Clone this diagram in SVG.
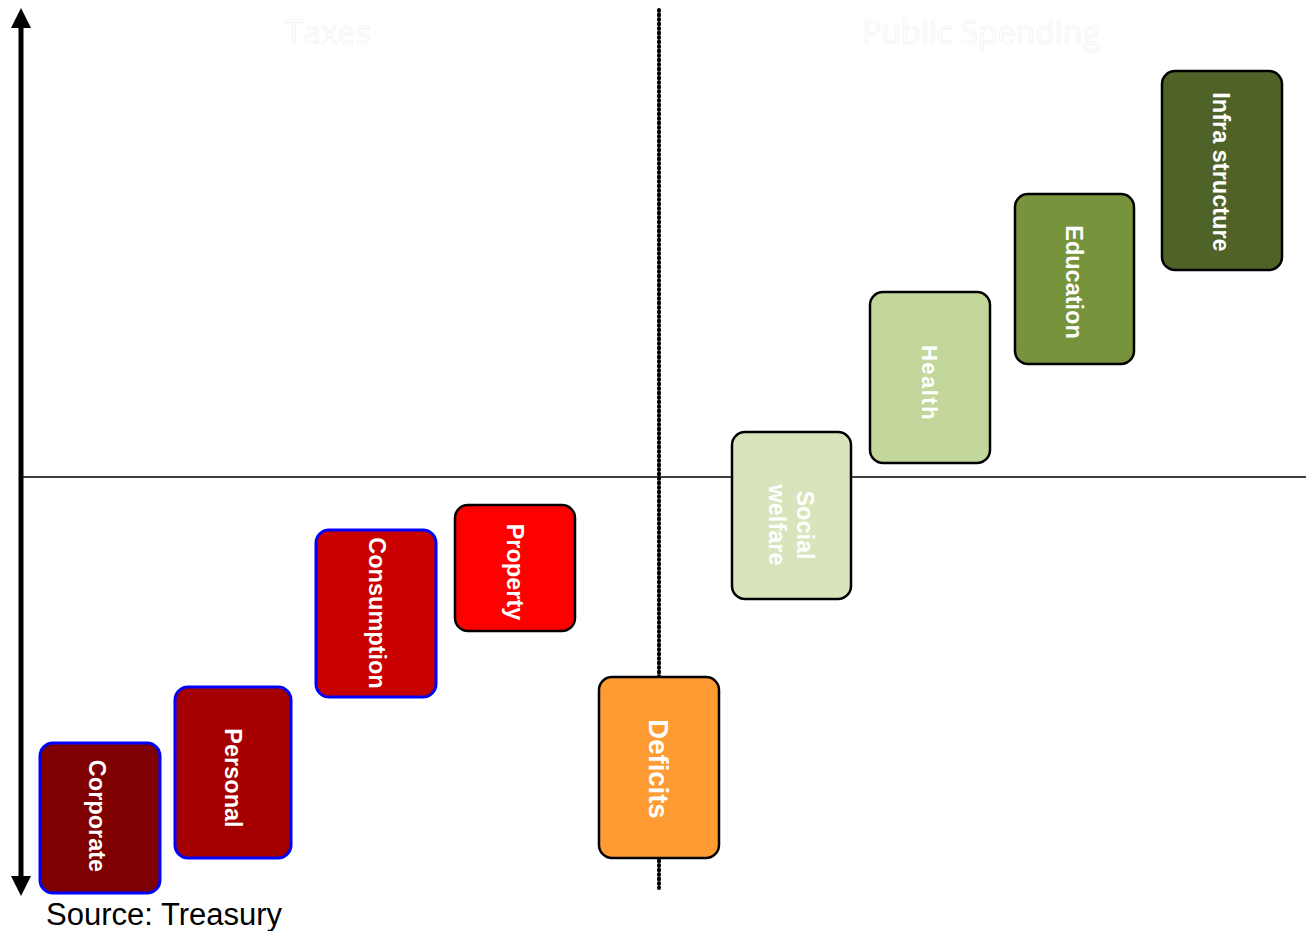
<svg xmlns="http://www.w3.org/2000/svg" width="1306" height="931" viewBox="0 0 1306 931">
<style>
.box{stroke-width:2.5}
.blue{stroke:#0000ff;stroke-width:3}
.blk{stroke:#000}
.lbl{font-family:"Liberation Sans",Arial,sans-serif;font-size:23.5px;font-weight:bold;fill:#fff;text-anchor:middle;dominant-baseline:central}
.title{font-family:"Open Sans","Liberation Sans",sans-serif;font-size:32px;fill:#fff;stroke:#f5ecec;stroke-width:0.6;text-anchor:middle}
</style>
<defs>
<marker id="ah" viewBox="0 0 10 10" refX="5" refY="5" markerWidth="4" markerHeight="4" orient="auto-start-reverse" markerUnits="strokeWidth">
<path d="M0,0 L10,5 L0,10 z" fill="#000"/>
</marker>
</defs>
<rect width="1306" height="931" fill="#fff"/>
<g id="connectors">
<line x1="22" y1="477" x2="1306" y2="477" stroke="#000" stroke-width="1.5"/>
<line x1="21" y1="18" x2="21" y2="886" stroke="#000" stroke-width="5" marker-start="url(#ah)" marker-end="url(#ah)"/>
<line x1="659" y1="10" x2="659" y2="888" stroke="#000" stroke-width="4" stroke-dasharray="1 3.5" stroke-linecap="round"/>
</g>
<g id="titles">
<text class="title" x="328" y="44">Taxes</text>
<text class="title" x="981" y="44">Public Spending</text>
</g>
<g id="corporate"><rect class="box blue" x="40" y="743" width="120" height="150" rx="13" fill="#7f0000"/><text class="lbl" transform="translate(97,816) rotate(90)">Corporate</text></g>
<g id="personal"><rect class="box blue" x="175" y="687" width="116" height="171" rx="13" fill="#a50000"/><text class="lbl" transform="translate(233,778) rotate(90)">Personal</text></g>
<g id="consumption"><rect class="box blue" x="316" y="530" width="120" height="167" rx="13" fill="#c80000"/><text class="lbl" transform="translate(377,613) rotate(90)">Consumption</text></g>
<g id="property"><rect class="box blk" x="455" y="505" width="120" height="126" rx="13" fill="#ff0000"/><text class="lbl" transform="translate(515,572) rotate(90)">Property</text></g>
<g id="deficits"><rect class="box blk" x="599" y="677" width="120" height="181" rx="13" fill="#ff9b33"/><text class="lbl" style="font-size:27.5px" transform="translate(658,769) rotate(90)">Deficits</text></g>
<g id="social-welfare"><rect class="box blk" x="732" y="432" width="119" height="167" rx="13" fill="#d8e4bc"/><text class="lbl" transform="translate(791,525) rotate(90)"><tspan x="0" y="-14">Social</tspan><tspan x="0" y="14">welfare</tspan></text></g>
<g id="health"><rect class="box blk" x="870" y="292" width="120" height="171" rx="13" fill="#c3d69b"/><text class="lbl" style="letter-spacing:1.5px;font-size:22px" transform="translate(929,383) rotate(90)">Health</text></g>
<g id="education"><rect class="box blk" x="1015" y="194" width="119" height="170" rx="13" fill="#77933c"/><text class="lbl" transform="translate(1074,282) rotate(90)">Education</text></g>
<g id="infrastructure"><rect class="box blk" x="1162" y="71" width="120" height="199" rx="13" fill="#4f6228"/><text class="lbl" transform="translate(1221,172) rotate(90)">Infra structure</text></g>
<text x="46" y="925" font-family="'Liberation Sans',Arial,sans-serif" font-size="31" fill="#000">Source: Treasury</text>
</svg>
